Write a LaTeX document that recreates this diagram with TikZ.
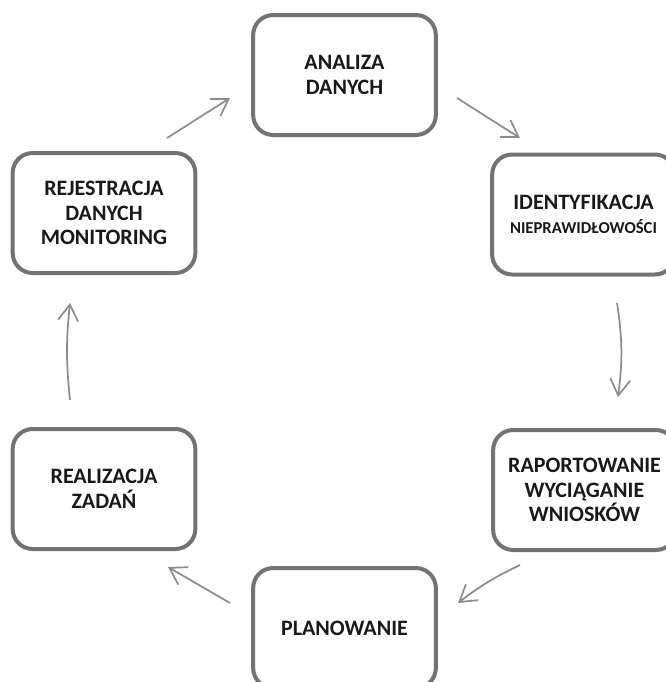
\documentclass[tikz,border=0pt]{standalone}
\usepackage{fontspec}
\setmainfont{Carlito}
\usetikzlibrary{arrows.meta}

\begin{document}
\begin{tikzpicture}[
  x=0.75pt, y=-0.75pt,
  font=\bfseries\fontsize{16.5}{18.5}\selectfont,
  box/.style={
    draw=black!55,
    line width=3pt,
    rounded corners=15pt,
    align=center,
    minimum width=137pt,
    minimum height=90pt,
    inner sep=2pt,
    fill=white,
    text=black!90
  },
  arrow/.style={-{Straight Barb[length=12pt,width=15pt]}, line width=1.3pt, draw=black!45}
]
\useasboundingbox (0,0) rectangle (666,682);

% The six stages of the cycle, clockwise from the top.
\node[box] (analiza)   at (344.5, 75)  {ANALIZA\\DANYCH};
\node[box] (ident)     at (583.5,214.5) {IDENTYFIKACJA\\{\fontsize{12.5}{14}\selectfont NIEPRAWIDŁOWOŚCI}};
\node[box] (raport)    at (584.5,490)  {RAPORTOWANIE\\WYCIĄGANIE\\WNIOSKÓW};
\node[box] (plan)      at (344.5,628)  {PLANOWANIE};
\node[box] (realizacja) at (104, 489)  {REALIZACJA\\ZADAŃ};
\node[box] (rejestr)   at (104, 213)   {REJESTRACJA\\DANYCH\\MONITORING};

% Free ends of the connectors between the boxes.
\coordinate (rejestr-out)    at (167,138);
\coordinate (analiza-in)     at (230, 98);
\coordinate (analiza-out)    at (457, 98);
\coordinate (ident-in)       at (520,138);
\coordinate (ident-out)      at (617,303);
\coordinate (raport-in)      at (618,397);
\coordinate (raport-out)     at (520,565);
\coordinate (plan-in)        at (458,603);
\coordinate (plan-out)       at (230,603);
\coordinate (realizacja-in)  at (168,567);
\coordinate (realizacja-out) at (70,400);
\coordinate (rejestr-in)     at (70,303);

\draw[arrow] (rejestr-out) -- (analiza-in);
\draw[arrow] (analiza-out) -- (ident-in);
\draw[arrow] (ident-out) to[bend left=8] (raport-in);
\draw[arrow] (raport-out) to[bend right=6] (plan-in);
\draw[arrow] (plan-out) -- (realizacja-in);
\draw[arrow] (realizacja-out) to[bend left=6] (rejestr-in);

\end{tikzpicture}
\end{document}
